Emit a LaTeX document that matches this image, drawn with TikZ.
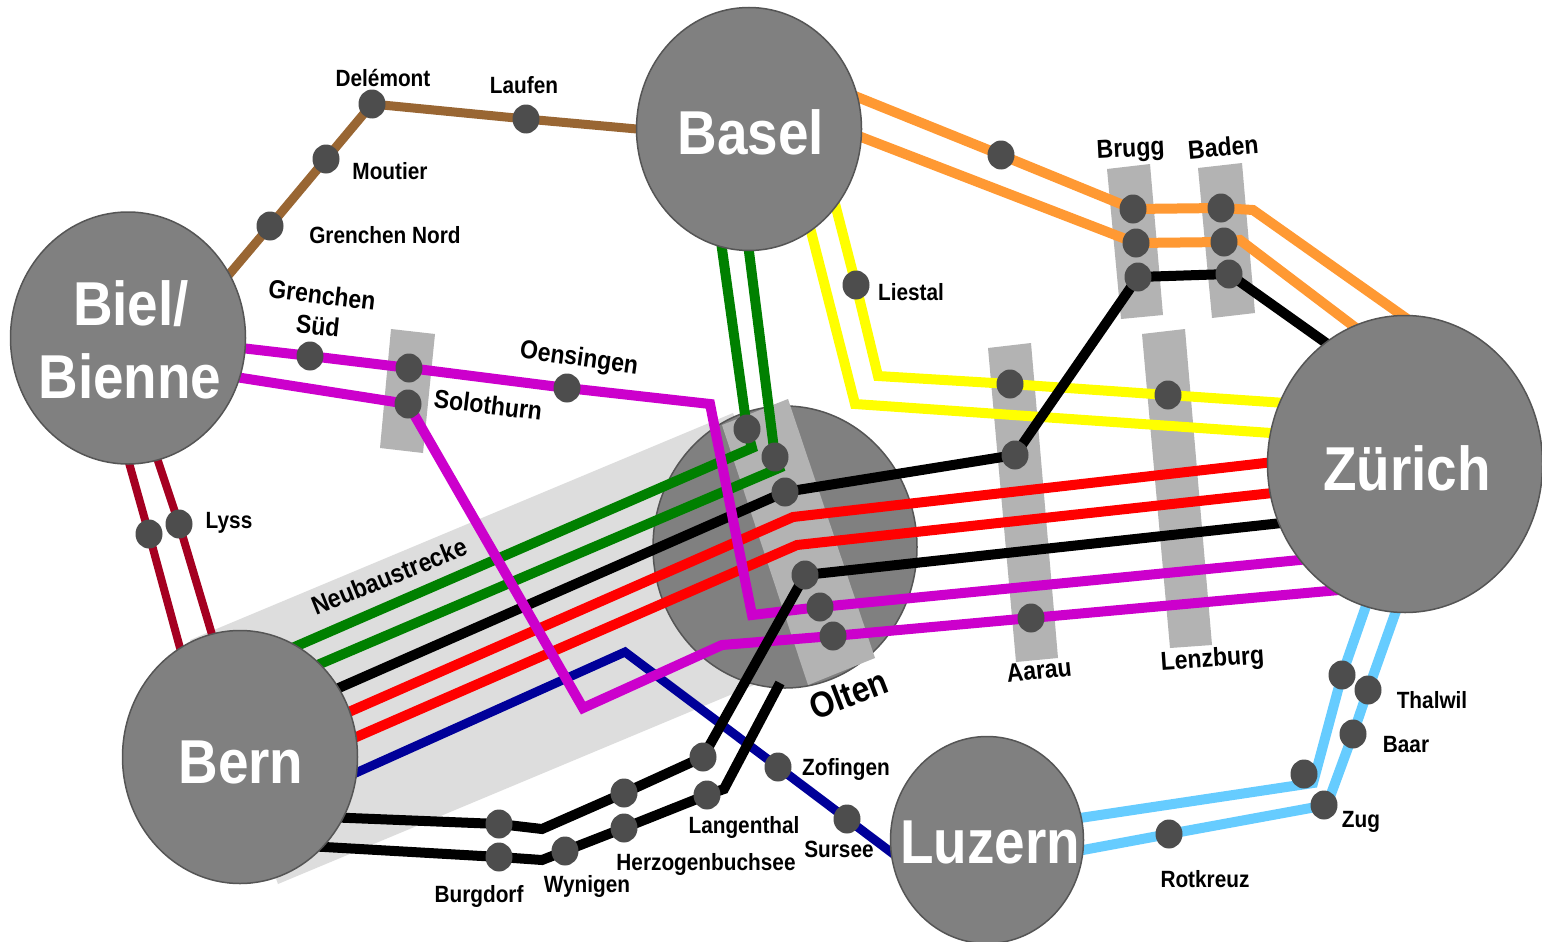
\documentclass[tikz,border=0pt]{standalone}
\usepackage{fontspec}
\newfontface\labfont[FakeStretch=0.885]{Liberation Sans Bold}
\usetikzlibrary{shapes.geometric}
\definecolor{cbrown}{HTML}{996633}
\definecolor{corange}{HTML}{FF9933}
\definecolor{cyellow}{HTML}{FFFF00}
\definecolor{cgreen}{HTML}{008000}
\definecolor{cred}{HTML}{FF0000}
\definecolor{cmag}{HTML}{CC00CC}
\definecolor{cblue}{HTML}{000099}
\definecolor{ccrim}{HTML}{A50021}
\definecolor{clblue}{HTML}{66CCFF}
\definecolor{cdot}{HTML}{4D4D4D}
\definecolor{ccity}{HTML}{808080}
\definecolor{cedge}{HTML}{555555}
\definecolor{cband}{HTML}{DDDDDD}
\definecolor{cbar}{HTML}{B3B3B3}
\begin{document}
\begin{tikzpicture}[x=1pt,y=-1pt,
  track/.style={line width=10pt, line join=miter, line cap=butt},
  stn/.style={ellipse, fill=cdot, minimum width=27pt, minimum height=29pt, inner sep=0pt},
  city/.style={ellipse, fill=ccity, draw=cedge, line width=1.5pt, inner sep=0pt},
  citytext/.style={text=white, font=\labfont\fontsize{62}{73}\selectfont, inner sep=0pt, anchor=base},
  lab/.style={font=\labfont\fontsize{23.5}{26}\selectfont, inner sep=0pt, anchor=base},
  rlab/.style={font=\labfont\fontsize{26}{28}\selectfont, inner sep=0pt, anchor=base},
  bar/.style={fill=cbar}]
\fill[white] (0,0) rectangle (1542,942);
\useasboundingbox (0,0) rectangle (1542,942);
% ---------- coordinates ----------
% brown
\coordinate (br0) at (210,297);
\coordinate (grn) at (270,226);
\coordinate (mou) at (326,159);
\coordinate (del) at (372,104);
\coordinate (lau) at (526,119);
\coordinate (br1) at (670,132);
% magenta 1
\coordinate (m1a) at (215,345);
\coordinate (gsu) at (310,356);
\coordinate (so1) at (409,368);
\coordinate (oen) at (567,388);
\coordinate (m1b) at (710,404);
\coordinate (m1c) at (752,615);
\coordinate (ol5) at (820,607);
\coordinate (m1d) at (1320,558);
% magenta 2
\coordinate (m2a) at (210,373);
\coordinate (so2) at (408,404);
\coordinate (m2b) at (583,708);
\coordinate (m2c) at (722,645);
\coordinate (ol6) at (833,636);
\coordinate (aa3) at (1031,618);
\coordinate (m2d) at (1350,589);
% crimson
\coordinate (c1a) at (124,445);
\coordinate (ly1) at (149,534);
\coordinate (c1b) at (186,670);
\coordinate (c2a) at (151,440);
\coordinate (ly2) at (179,524);
\coordinate (c2b) at (219,658);
% green
\coordinate (g1a) at (718,220);
\coordinate (ol1) at (747,429);
\coordinate (g1b) at (752,448);
\coordinate (g1c) at (260,662);
\coordinate (g2a) at (745,220);
\coordinate (ol2) at (775,457);
\coordinate (g2b) at (779,468);
\coordinate (g2c) at (280,681);
% black
\coordinate (k1a) at (300,705);
\coordinate (ol3) at (785,492);
\coordinate (aa2) at (1015,455);
\coordinate (bg3) at (1138,277);
\coordinate (bd3) at (1229,274);
\coordinate (k1b) at (1350,360);
\coordinate (k2a) at (1300,521);
\coordinate (ol4) at (805,575);
\coordinate (la1) at (703,757);
\coordinate (he1) at (624,793);
\coordinate (k2b) at (542,829);
\coordinate (bu1) at (499,824);
\coordinate (k2c) at (300,816);
\coordinate (k3a) at (290,845);
\coordinate (bu2) at (499,857);
\coordinate (k3b) at (542,860);
\coordinate (wyn) at (565,851);
\coordinate (he2) at (624,828);
\coordinate (la2) at (707,795);
\coordinate (k3c) at (724,789);
\coordinate (k3d) at (780,683);
% red
\coordinate (r1a) at (310,729);
\coordinate (r1b) at (793,517);
\coordinate (r1c) at (1300,459);
\coordinate (r2a) at (315,755);
\coordinate (r2b) at (797,545);
\coordinate (r2c) at (1300,490);
% blue
\coordinate (b0) at (320,789);
\coordinate (b1) at (625,652);
\coordinate (zof) at (778,767);
\coordinate (sur) at (847,819);
\coordinate (b2) at (920,874);
% yellow
\coordinate (y1a) at (825,165);
\coordinate (lie) at (856,285);
\coordinate (y1b) at (878,376);
\coordinate (aa1) at (1010,384);
\coordinate (len) at (1168,395);
\coordinate (y1c) at (1300,404);
\coordinate (y2a) at (803,200);
\coordinate (y2b) at (855,404);
\coordinate (y2c) at (1300,435);
% orange
\coordinate (o1a) at (830,86);
\coordinate (odot) at (1001,155);
\coordinate (bg1) at (1133,209);
\coordinate (bd1) at (1221,208);
\coordinate (o1b) at (1253,210);
\coordinate (o1c) at (1420,328);
\coordinate (o2a) at (830,125);
\coordinate (bg2) at (1136,243);
\coordinate (bd2) at (1224,242);
\coordinate (o2b) at (1240,240);
\coordinate (o2c) at (1385,350);
% light blue
\coordinate (l1a) at (1375,580);
\coordinate (hor) at (1342,675);
\coordinate (l1b) at (1313,783);
\coordinate (l1d) at (1304,774);
\coordinate (l1c) at (1040,824);
\coordinate (l2a) at (1407,580);
\coordinate (thw) at (1368,690);
\coordinate (baa) at (1353,734);
\coordinate (zug) at (1327,805);
\coordinate (zugd) at (1324,805);
\coordinate (rot) at (1169,834);
\coordinate (l2b) at (1040,858);
% ---------- background shapes ----------
\fill[cband] (190,640) -- (733,413) -- (833,652) -- (278,884) -- cycle;
\node[city, minimum width=264pt, minimum height=282pt] (olten) at (785,547) {};
\fill[bar] (391,329) -- (435,334) -- (423,453) -- (380,448) -- cycle;
\fill[bar] (1107,169) -- (1150,164) -- (1163,315) -- (1121,319) -- cycle;
\fill[bar] (1198,168) -- (1242,163) -- (1255,313) -- (1212,318) -- cycle;
\fill[bar] (988,348) -- (1031,343) -- (1058,658) -- (1016,662) -- cycle;
\fill[bar] (1142,334) -- (1185,329) -- (1212,645) -- (1170,648) -- cycle;
\fill[bar] (722,425) -- (788,399) -- (875,658) -- (808,685) -- cycle;
% ---------- lines ----------
\draw[track, cbrown, line width=9pt] (br0) -- (grn) -- (mou) -- (del) -- (lau) -- (br1);
\draw[track, ccrim, line width=8pt] (c1a) -- (ly1) -- (c1b);
\draw[track, ccrim, line width=8pt] (c2a) -- (ly2) -- (c2b);
\draw[track, corange] (o1a) -- (odot) -- (bg1) -- (bd1) -- (o1b) -- (o1c);
\draw[track, corange] (o2a) -- (bg2) -- (bd2) -- (o2b) -- (o2c);
\draw[track, cyellow] (y1a) -- (lie) -- (y1b) -- (aa1) -- (len) -- (y1c);
\draw[track, cyellow] (y2a) -- (y2b) -- (y2c);
\draw[track, cgreen] (g1a) -- (ol1) -- (g1b) -- (g1c);
\draw[track, cgreen] (g2a) -- (ol2) -- (g2b) -- (g2c);
\draw[track, cred] (r1a) -- (r1b) -- (r1c);
\draw[track, cred] (r2a) -- (r2b) -- (r2c);
\draw[track, black] (k1a) -- (ol3) -- (aa2) -- (bg3) -- (bd3) -- (k1b);
\draw[track, cblue, line width=9pt] (b0) -- (b1) -- (zof) -- (sur) -- (b2);
\draw[track, cmag] (m1a) -- (gsu) -- (so1) -- (oen) -- (m1b) -- (m1c) -- (ol5) -- (m1d);
\draw[track, cmag] (m2a) -- (so2) -- (m2b) -- (m2c) -- (ol6) -- (aa3) -- (m2d);
\draw[track, black] (k2a) -- (ol4) -- (la1) -- (he1) -- (k2b) -- (bu1) -- (k2c);
\draw[track, black] (k3a) -- (bu2) -- (k3b) -- (wyn) -- (he2) -- (la2) -- (k3c) -- (k3d);
\draw[track, clblue] (l1a) -- (hor) -- (l1b) -- (l1c);
\draw[track, clblue] (l2a) -- (thw) -- (baa) -- (zug) -- (rot) -- (l2b);
% ---------- station dots ----------
\foreach \p in {grn,mou,del,lau,gsu,so1,so2,oen,ly1,ly2,lie,odot,bg1,bg2,bg3,bd1,bd2,bd3,aa1,aa2,aa3,len,ol1,ol2,ol3,ol4,ol5,ol6,zof,sur,bu1,bu2,wyn,he1,he2,la1,la2,hor,thw,baa,l1d,zugd,rot}
  \node[stn] (d-\p) at (\p) {};
% ---------- cities ----------
\node[city, minimum width=225pt, minimum height=243pt] (basel) at (749,129) {};
\node[city, minimum width=235pt, minimum height=252pt] (biel) at (128,338) {};
\node[city, minimum width=235pt, minimum height=253pt] (bern) at (240,757) {};
\node[city, minimum width=275pt, minimum height=297pt] (zuerich) at (1405,464) {};
\node[city, minimum width=193pt, minimum height=207pt] (luzern) at (987,840) {};
\node[citytext] (t-basel) at (751,154) {Basel};
\node[citytext] (t-biel1) at (131,325) {Biel/};
\node[citytext] (t-biel2) at (130,398) {Bienne};
\node[citytext] (t-bern) at (241,783) {Bern};
\node[citytext] (t-zuerich) at (1407,490) {Zürich};
\node[citytext] (t-luzern) at (990,863) {Luzern};
% ---------- labels ----------
\node[lab] (t-del) at (383,87) {Delémont};
\node[lab] (t-lau) at (524,93) {Laufen};
\node[lab] (t-mou) at (390,179) {Moutier};
\node[lab] (t-grn) at (385,243) {Grenchen Nord};
\node[rlab, rotate=-7] (t-gs1) at (321,304) {Grenchen};
\node[rlab, rotate=-6] (t-gs2) at (317,335) {Süd};
\node[rlab, rotate=-8] (t-oen) at (578,366) {Oensingen};
\node[rlab, rotate=-7] (t-sol) at (487,414) {Solothurn};
\node[lab] (t-lys) at (229,528) {Lyss};
\node[rlab, rotate=22] (t-neu) at (393,585) {Neubaustrecke};
\node[lab] (t-lie) at (911,300) {Liestal};
\node[rlab, rotate=3] (t-bru) at (1131,157) {Brugg};
\node[rlab, rotate=5] (t-bad) at (1224,156) {Baden};
\node[rlab, rotate=6] (t-aar) at (1040,679) {Aarau};
\node[rlab, rotate=4] (t-len) at (1213,667) {Lenzburg};
\node[lab, rotate=21, font=\labfont\fontsize{36}{40}\selectfont] (t-olt) at (853,706) {Olten};
\node[lab] (t-zof) at (846,775) {Zofingen};
\node[lab] (t-sur) at (839,857) {Sursee};
\node[lab] (t-lan) at (744,833) {Langenthal};
\node[lab] (t-her) at (706,870) {Herzogenbuchsee};
\node[lab] (t-wyn) at (587,892) {Wynigen};
\node[lab] (t-bur) at (479,902) {Burgdorf};
\node[lab] (t-tha) at (1432,708) {Thalwil};
\node[lab] (t-baa) at (1406,752) {Baar};
\node[lab] (t-zug) at (1361,827) {Zug};
\node[lab] (t-rot) at (1205,887) {Rotkreuz};
\end{tikzpicture}
\end{document}
